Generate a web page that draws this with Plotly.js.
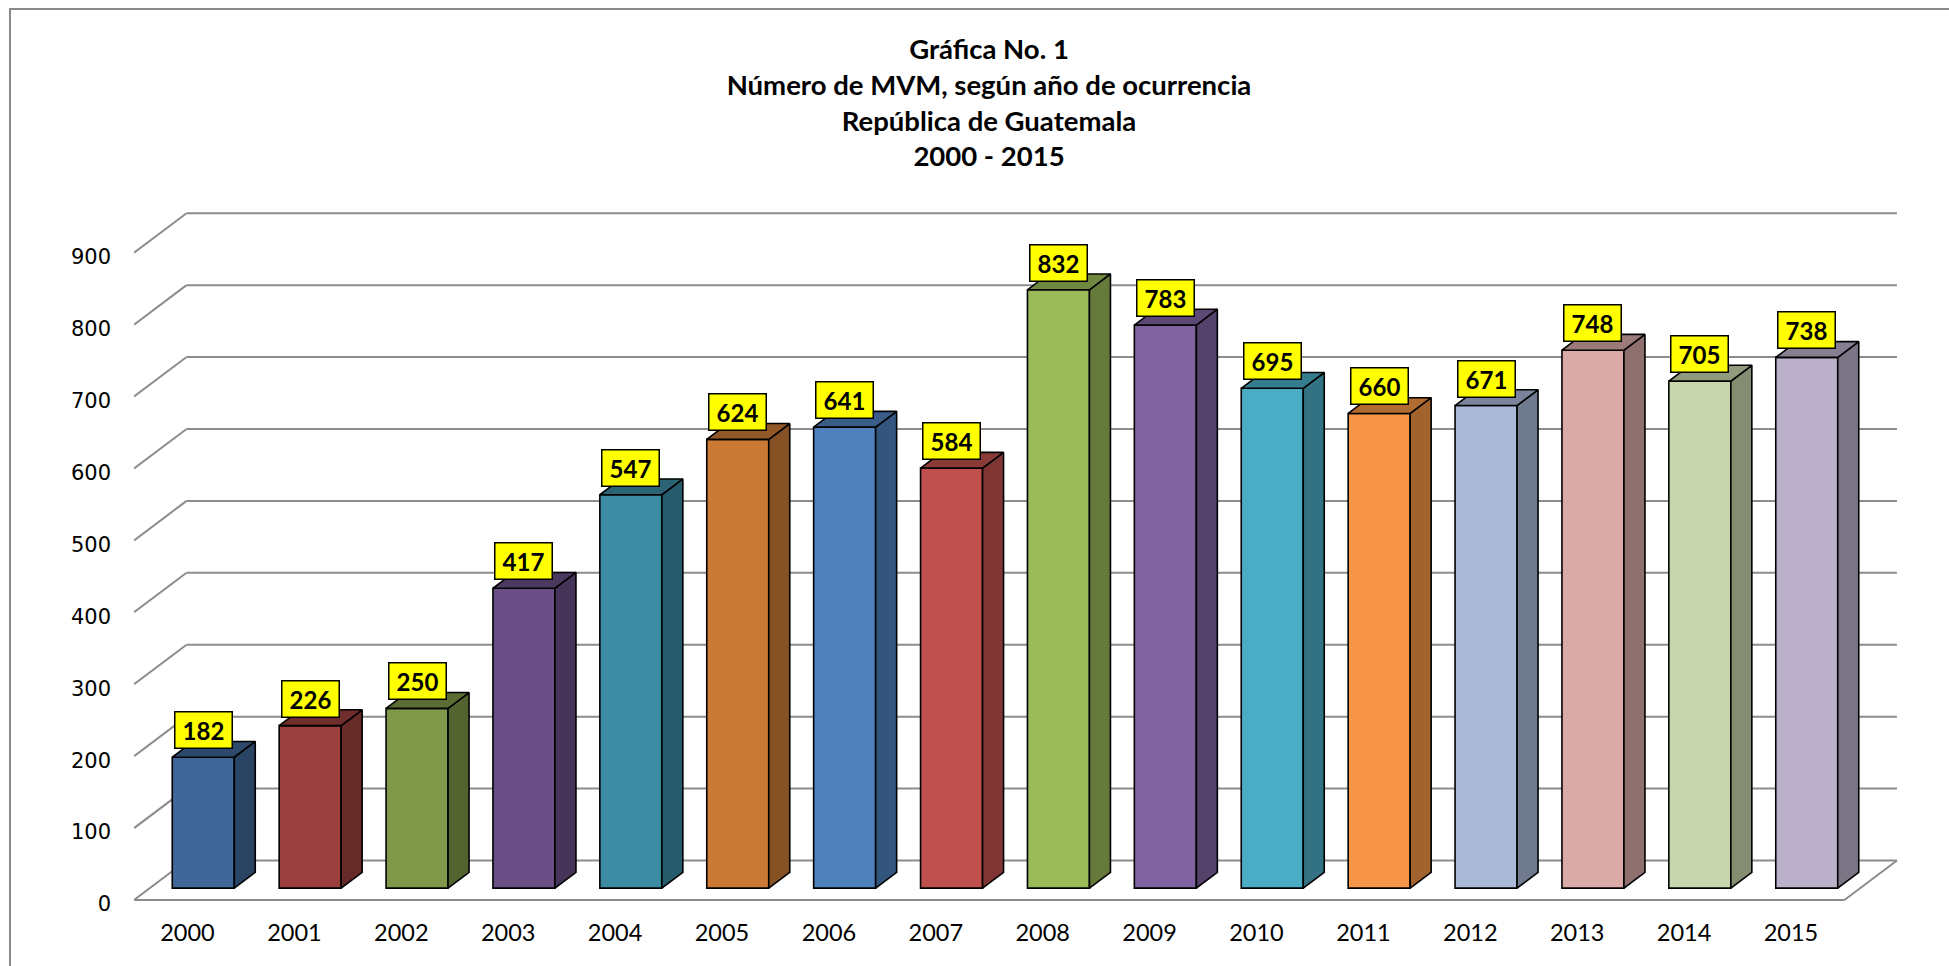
<!DOCTYPE html>
<html>
<head>
<meta charset="utf-8">
<script src="https://cdn.plot.ly/plotly-3.0.1.min.js"></script>
<style>html,body{margin:0;padding:0;background:#fff;} #chart{width:1949px;height:966px;}</style>
</head>
<body>
<div id="chart"></div>
<script>
// ---------------- data ----------------
const years = ['2000','2001','2002','2003','2004','2005','2006','2007','2008','2009','2010','2011','2012','2013','2014','2015'];
const counts = [182, 226, 250, 417, 547, 624, 641, 584, 832, 783, 695, 660, 671, 748, 705, 738];
const yTicks = [0, 100, 200, 300, 400, 500, 600, 700, 800, 900];
const barColors = ['#3f6797','#9b3f3e','#7f984a','#694f86','#3b8ba3','#cb7a36',
                   '#4f81bd','#c0504d','#9bbb59','#8064a2','#4bacc6','#f79646',
                   '#aab9d7','#d9aaa8','#c8d6ad','#bab0c9'];
const titleLines = ['Gráfica No. 1','Número de MVM, según año de ocurrencia','República de Guatemala','2000 - 2015'];

// ---------------- geometry (pixels) ----------------
const FIG_W = 1949, FIG_H = 966;
const PX_L = 134, PX_R = 1902, PX_T = 195, PX_B = 902;
const CAT_PX = 106.9, X0_PX = 187.5;      // category spacing, centre of first category (front plane)
const VAL_PX = 0.7192, Y0_PX = 900;       // px per unit, y pixel of value 0 (front plane)
const DEPTH_PX = [52.5, 39.5];            // floor depth offset
const BAR_FRONT = 0.3, BAR_DEPTH = 0.4;   // bar position in the depth (fraction)
const BAR_W = 62 / CAT_PX;
const TITLE_CX = 989, TITLE_TOP = 59;

const DX = DEPTH_PX[0] / CAT_PX, DY = DEPTH_PX[1] / VAL_PX;
const xRange = [(PX_L - X0_PX) / CAT_PX, (PX_R - X0_PX) / CAT_PX];
const yRange = [(Y0_PX - PX_B) / VAL_PX, (Y0_PX - PX_T) / VAL_PX];
const toPaperX = px => (px - PX_L) / (PX_R - PX_L);
const toPaperY = py => (PX_B - py) / (PX_B - PX_T);

function shade(hex, f) {
  const n = parseInt(hex.slice(1), 16);
  const r = Math.round(((n >> 16) & 255) * f), g = Math.round(((n >> 8) & 255) * f), b = Math.round((n & 255) * f);
  return 'rgb(' + r + ',' + g + ',' + b + ')';
}

const GRID = '#8c8c8c';
const first = -0.5, last = years.length - 0.5;

// gridlines / floor as shapes below the traces
const shapes = [];
yTicks.forEach(v => {
  shapes.push({type:'line', xref:'x', yref:'y', layer:'below', x0:first, y0:v, x1:first+DX, y1:v+DY, line:{color:GRID, width:2}});
  shapes.push({type:'line', xref:'x', yref:'y', layer:'below', x0:first+DX, y0:v+DY, x1:last+DX, y1:v+DY, line:{color:GRID, width:2}});
});
shapes.push({type:'line', xref:'x', yref:'y', layer:'below', x0:first, y0:yTicks[0], x1:last, y1:yTicks[0], line:{color:GRID, width:2}});
shapes.push({type:'line', xref:'x', yref:'y', layer:'below', x0:last, y0:yTicks[0], x1:last+DX, y1:yTicks[0]+DY, line:{color:GRID, width:2}});
// outer frame
shapes.push({type:'rect', xref:'paper', yref:'paper', layer:'below',
  x0: toPaperX(10), y0: toPaperY(FIG_H + 40), x1: toPaperX(FIG_W + 40), y1: toPaperY(9),
  line:{color:'#8a8a8a', width:2}, fillcolor:'rgba(0,0,0,0)'});

// ---------------- traces ----------------
const base = BAR_FRONT * DY;
const bx = counts.map((_, i) => i + BAR_FRONT * DX);
const traces = [{
  type:'bar', x: bx, y: counts, base: base, width: BAR_W,
  marker:{color: barColors, line:{color:'#000', width:1.6}},
  hoverinfo:'skip', showlegend:false
}];
counts.forEach((v, i) => {
  const l = bx[i] - BAR_W/2, r = bx[i] + BAR_W/2, t = base + v;
  const ddx = BAR_DEPTH * DX, ddy = BAR_DEPTH * DY;
  traces.push({type:'scatter', mode:'lines', fill:'toself', hoverinfo:'skip', showlegend:false,
    x:[r, r+ddx, r+ddx, r, r], y:[base, base+ddy, t+ddy, t, base],
    fillcolor: shade(barColors[i], 0.66), line:{color:'#000', width:1.6}});
  traces.push({type:'scatter', mode:'lines', fill:'toself', hoverinfo:'skip', showlegend:false,
    x:[l, r, r+ddx, l+ddx, l], y:[t, t, t+ddy, t+ddy, t],
    fillcolor: shade(barColors[i], 0.72), line:{color:'#000', width:1.6}});
});

const annotations = counts.map((v, i) => ({
  xref:'x', yref:'y', x: bx[i], y: base + v, yanchor:'bottom', yshift: 8,
  text: String(v), showarrow:false,
  font:{family:'Lato', size:24, weight:700, color:'#000'},
  bgcolor:'#ffff00', bordercolor:'#000', borderwidth:1.5, borderpad:2, width:52, height:31
}));

const layout = {
  width: FIG_W, height: FIG_H,
  margin:{l: PX_L, r: FIG_W - PX_R, t: PX_T, b: FIG_H - PX_B, pad:0},
  paper_bgcolor:'#fff', plot_bgcolor:'rgba(0,0,0,0)',
  showlegend:false,
  title:{text: titleLines.join('<br>'), x: TITLE_CX / FIG_W, xref:'container', xanchor:'center',
         y: 1 - TITLE_TOP/FIG_H, yref:'container', yanchor:'top',
         font:{family:'Lato', size:27.5, weight:700, color:'#000'}},
  xaxis:{range: xRange, showgrid:false, zeroline:false, showline:false, ticks:'',
         tickmode:'array', tickvals: years.map((_, i) => i), ticktext: years,
         ticklabelstandoff: 14, tickfont:{family:'Lato', size:23.5, color:'#000'}, fixedrange:true},
  yaxis:{range: yRange, showgrid:false, zeroline:false, showline:false, ticks:'',
         tickmode:'array', tickvals: yTicks, ticktext: yTicks.map(String),
         ticklabelstandoff: 22, ticklabelshift: 4, tickfont:{family:'DejaVu Sans', size:21, color:'#000'}, fixedrange:true},
  shapes: shapes,
  annotations: annotations,
  bargap:0
};

Plotly.newPlot('chart', traces, layout, {displayModeBar:false, staticPlot:true});
</script>
</body>
</html>
